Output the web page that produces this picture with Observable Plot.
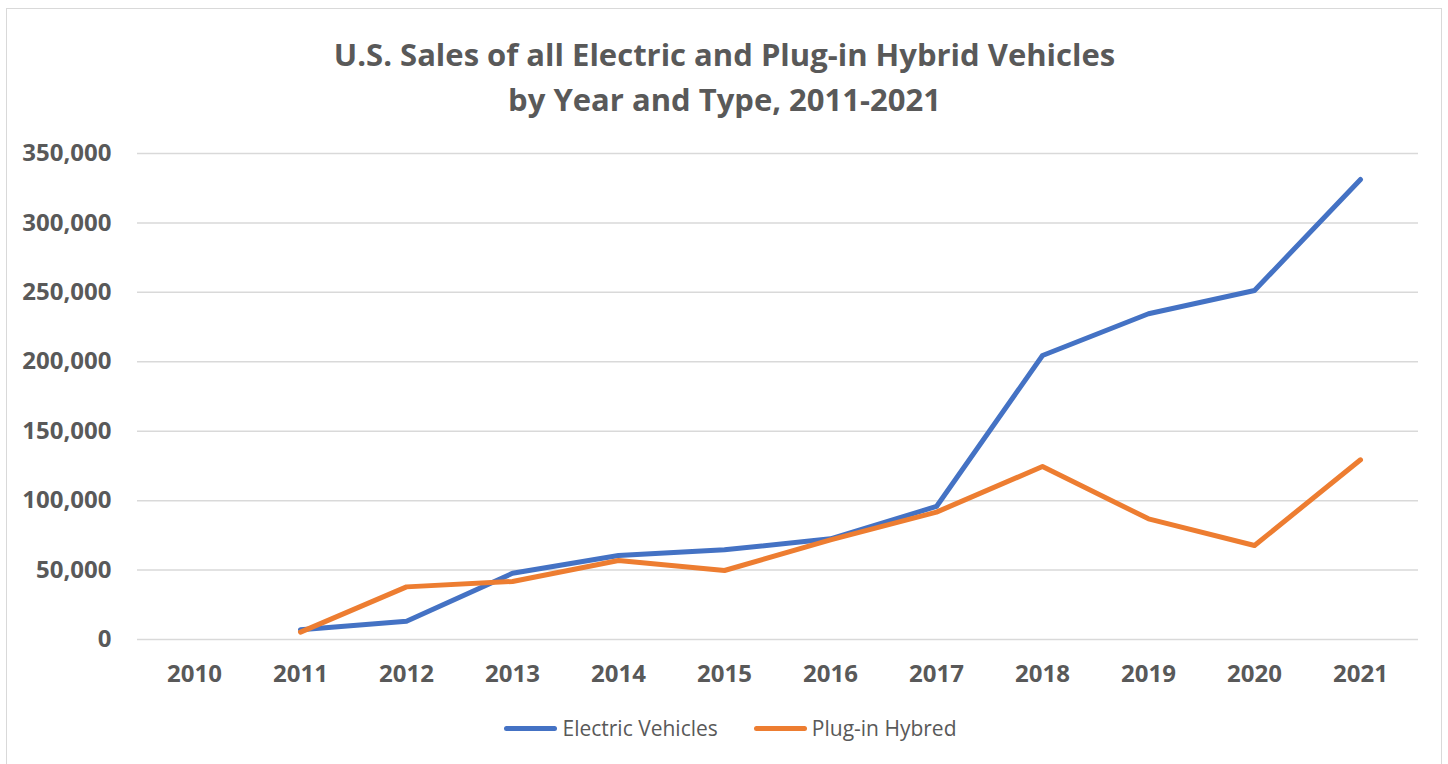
<!DOCTYPE html>
<html>
<head>
<meta charset="utf-8">
<script src="https://cdn.jsdelivr.net/npm/d3@7"></script>
<script src="https://cdn.jsdelivr.net/npm/@observablehq/plot@0.6"></script>
<style>
  html, body { margin: 0; padding: 0; width: 1448px; height: 764px; overflow: hidden; background: #fff; }
  #frame { position: absolute; left: 6px; top: 8px; width: 1436px; height: 780px; border: 1px solid #d9d9d9; box-sizing: border-box; }
  #title { position: absolute; left: 6px; width: 1437px; top: 32px; text-align: center; font-family: "Open Sans", Lato, sans-serif; font-weight: bold; font-size: 31px; line-height: 45px; color: #595959; }
  #chart { position: absolute; left: 0; top: 130px; }
  #legend { position: absolute; left: 12px; width: 1437px; top: 714px; display: flex; justify-content: center; align-items: center; font-family: "Open Sans", Lato, sans-serif; font-size: 21px; color: #595959; }
  .item { display: flex; align-items: center; margin: 0 18px; }
  .sw { width: 53px; height: 5px; border-radius: 3px; margin-right: 5px; }
</style>
</head>
<body>
<div id="frame"></div>
<div id="title">U.S. Sales of all Electric and Plug-in Hybrid Vehicles<br>by Year and Type, 2011-2021</div>
<div id="chart"></div>
<div id="legend"></div>
<script>
const years = ["2010","2011","2012","2013","2014","2015","2016","2017","2018","2019","2020","2021"];
const evSales   = [null, 7000, 13200, 47700, 60500, 64600, 72500, 95800, 204500, 234600, 251300, 331300];
const phevSales = [null, 5300, 37900, 41800, 56900, 49700, 71800, 91700, 124600, 86900, 67700, 129400];
const seriesNames = ["Electric Vehicles", "Plug-in Hybred"];
const seriesColors = ["#4472C4", "#ED7D31"];
const yTicks = [0, 50000, 100000, 150000, 200000, 250000, 300000, 350000];

function rows(values) {
  return years.map((y, i) => ({year: y, value: values[i]})).filter(d => d.value != null);
}
const evData = rows(evSales);
const phevData = rows(phevSales);

const plot = Plot.plot({
  width: 1448,
  height: 570,
  marginTop: 23,
  marginBottom: 61,
  marginLeft: 137,
  marginRight: 30,
  style: {fontFamily: "'Open Sans', Lato, sans-serif", fontSize: "24px", fontWeight: "bold", color: "#595959", background: "transparent"},
  x: {type: "point", domain: years, padding: 0, range: [190, 1364], label: null},
  y: {domain: [0, 350000], ticks: yTicks, label: null},
  marks: [
    Plot.ruleY(yTicks, {stroke: "#d9d9d9", strokeWidth: 1.5}),
    Plot.axisY(yTicks, {tickSize: 0, tickPadding: 26, tickFormat: d3.format(","), label: null}),
    Plot.axisX({tickSize: 0, tickPadding: 25, label: null}),
    Plot.lineY(evData, {x: "year", y: "value", stroke: seriesColors[0], strokeWidth: 5, strokeLinecap: "round", strokeLinejoin: "round"}),
    Plot.lineY(phevData, {x: "year", y: "value", stroke: seriesColors[1], strokeWidth: 5, strokeLinecap: "round", strokeLinejoin: "round"})
  ]
});
document.getElementById("chart").appendChild(plot);

const legend = document.getElementById("legend");
seriesNames.forEach((n, i) => {
  const item = document.createElement("div");
  item.className = "item";
  const sw = document.createElement("div");
  sw.className = "sw";
  sw.style.background = seriesColors[i];
  const t = document.createElement("span");
  t.textContent = n;
  item.appendChild(sw);
  item.appendChild(t);
  legend.appendChild(item);
});
</script>
</body>
</html>
